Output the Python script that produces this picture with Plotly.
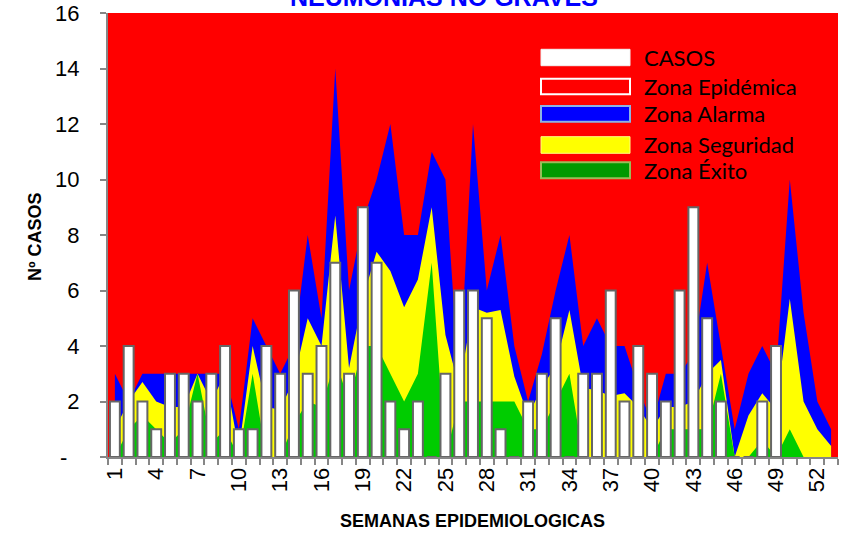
import plotly.graph_objects as go

# ---------------- data ----------------
weeks = list(range(1, 54))
tick_weeks = list(range(1, 53, 3))
tick_labels = [str(w) for w in tick_weeks]

casos = [2, 4, 2, 1, 3, 3, 2, 3, 4, 1,
         1, 4, 3, 6, 3, 4, 7, 3, 9, 7,
         2, 1, 2, 0, 3, 6, 6, 5, 1, 0,
         2, 3, 5, 0, 3, 3, 6, 2, 4, 3,
         2, 6, 9, 5, 2, 0, 0, 2, 4, None,
         None, None, None]

# upper limit of each zone (cumulative)
zona_exito = [0, 1, 1.5, 1, 0.5, 1, 3, 0.5, 1, 0,
              3, 0, 0, 1.2, 2, 1.8, 3.5, 2, 4, 4,
              3, 2, 3, 7, 0, 2, 2, 2, 2, 2,
              1, 1, 2, 3, 0, 0, 0, 0, 0, 0,
              1, 1, 1, 1, 3, 0, 0, 0.6, 0, 1,
              0, 0, 0]
zona_seguridad = [1, 2, 2.7, 2, 1.8, 1.8, 3, 2, 3, 0.25,
                  4, 1.8, 1.7, 2.8, 5, 4, 8.7, 3.2, 5.7, 7.4,
                  6.7, 5.4, 6.4, 9, 4.4, 2.5, 5.4, 5.2, 5.3, 2.9,
                  1.5, 2.5, 3.3, 5.3, 2.5, 2.4, 2.2, 2.3, 1.8, 1,
                  1.8, 1.8, 2, 3, 3.5, 0, 1.5, 2.3, 1.7, 5.7,
                  2, 1, 0.4]
zona_alarma = [3, 2, 3, 3, 3, 3, 3, 3, 3, 1,
               5, 4, 3, 4, 8, 5, 14, 6, 8.5, 10,
               12, 8, 8, 11, 10, 2.6, 12, 6, 8, 4,
               2, 3.7, 6, 8, 4, 5, 4, 4, 2.5, 1.2,
               3, 3, 3.7, 7, 4, 1, 3, 4, 3, 10,
               5.2, 2, 1]

y_ticks = list(range(0, 17, 2))
y_labels = ["-\u00a0\u00a0"] + [str(v) for v in y_ticks[1:]]

RED = "#FF0000"
BLUE = "#0000FF"
YELLOW = "#FFFF00"
GREEN = "#00CC00"

fig = go.Figure()

for vals, col, nm in [(zona_alarma, BLUE, "Zona Alarma"),
                      (zona_seguridad, YELLOW, "Zona Seguridad"),
                      (zona_exito, GREEN, "Zona Éxito")]:
    fig.add_trace(go.Scatter(x=weeks, y=vals, name=nm, mode="lines",
                             fill="tozeroy", fillcolor=col,
                             line=dict(width=0, color=col),
                             showlegend=False, hoverinfo="skip"))

fig.add_trace(go.Bar(x=weeks, y=casos, name="CASOS", xaxis="x2", yaxis="y2",
                     marker=dict(color="white", line=dict(color="#666666", width=2)),
                     showlegend=False, hoverinfo="skip"))

# ---------------- layout ----------------
L, R, T, B = 108, 5, 13, 76
W, H = 843, 533
pw, ph = W - L - R, H - T - B


def px(x):
    return (x - L) / pw


def py(y):
    return (H - B - y) / ph


axis_font = dict(family="Arial, Liberation Sans", size=22, color="black")
title_font = dict(family="Arial, Liberation Sans", size=18, color="black")

fig.update_layout(
    width=W, height=H,
    margin=dict(l=L, r=R, t=T, b=B, pad=0, autoexpand=False),
    paper_bgcolor="white",
    plot_bgcolor=RED,
    bargap=0.28,
    showlegend=False,
    xaxis=dict(range=[0.5, 53.5], tickmode="array", tickvals=tick_weeks,
               ticktext=tick_labels, tickangle=-90, tickfont=axis_font,
               automargin=False,
               showgrid=False, zeroline=False, showline=True,
               linecolor="#868686", linewidth=2, ticks="outside", ticklen=0,
               tickcolor="#868686",
               minor=dict(tick0=0.5, dtick=1, ticks="outside", ticklen=6,
                          tickcolor="#868686", tickwidth=1.5, showgrid=False)),
    yaxis=dict(range=[0, 16], tickmode="array", tickvals=y_ticks, ticktext=y_labels,
               tickfont=axis_font, automargin=False,
               showgrid=False, zeroline=False, showline=True,
               linecolor="#868686", linewidth=2, ticks="outside", ticklen=6,
               tickcolor="#868686", tickwidth=1.5, ticklabelstandoff=16),
    xaxis2=dict(range=[0.5, 53.5], overlaying="x", anchor="y2", visible=False),
    yaxis2=dict(range=[0, 16], overlaying="y", anchor="x2", visible=False),
)

# axis titles
fig.add_annotation(text="<b>Nº CASOS</b>", xref="paper", yref="paper",
                   x=px(35), y=py(237), xanchor="center", yanchor="middle",
                   textangle=-90, showarrow=False, font=title_font)
fig.add_annotation(text="<b>SEMANAS EPIDEMIOLOGICAS</b>", xref="paper", yref="paper",
                   x=px(472), y=py(521), xanchor="center", yanchor="middle",
                   showarrow=False, font=title_font)

# chart title (partly cut at the top, as in the original)
fig.add_annotation(text="<b>NEUMONIAS NO GRAVES</b>", xref="paper", yref="paper",
                   x=px(444), y=py(-2.5), xanchor="center", yanchor="middle",
                   showarrow=False,
                   font=dict(family="Arial, Liberation Sans", size=25, color=BLUE))

# legend drawn manually
legend_items = [
    ("CASOS", "white", "#F2F2F2", 1, 49.3, 65.7),
    ("Zona Epidémica", RED, "white", 2, 78.7, 94.3),
    ("Zona Alarma", BLUE, "#8DB3E2", 2, 106, 121.7),
    ("Zona Seguridad", YELLOW, "#FFFF80", 1, 136.7, 153.3),
    ("Zona Éxito", "#009900", "#9BBB59", 2, 162.3, 178.3),
]
for label, fcol, lcol, lw, y0, y1 in legend_items:
    fig.add_shape(type="rect", xref="paper", yref="paper",
                  x0=px(541), x1=px(630), y0=py(y1), y1=py(y0),
                  fillcolor=fcol, line=dict(color=lcol, width=lw), layer="above")
    fig.add_annotation(text=label, xref="paper", yref="paper",
                       x=px(642), y=py((y0 + y1) / 2), xanchor="left", yanchor="middle",
                       showarrow=False,
                       font=dict(family="Lato", size=22, color="black"))

fig.write_html("out.html", config={"displayModeBar": False},
               post_script="document.body.style.margin='0';")
